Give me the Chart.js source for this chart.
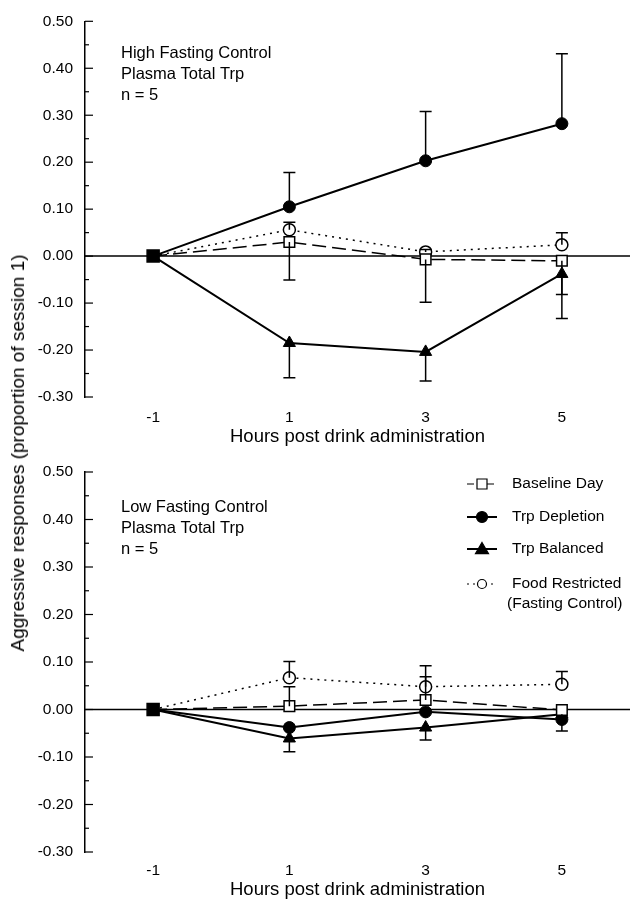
<!DOCTYPE html>
<html lang="en">
<head>
    <meta charset="UTF-8">
    <title>Aggressive responses after drink administration</title>
    <script src="https://cdn.jsdelivr.net/npm/chart.js"></script>
    <style>
        body { margin: 0; background: #fff; font-family: "Liberation Sans", Arial, sans-serif; }
        #wrap { position: relative; width: 634px; height: 901px; overflow: hidden; }
        #topChart { position: absolute; left: 0; top: 0; }
        #bottomChart { position: absolute; left: 0; top: 450px; }
        #yTitle {
            position: absolute; left: 18px; top: 453px; white-space: nowrap;
            font-size: 19px; color: #000;
            transform: translate(-50%, -50%) rotate(-90deg);
        }
    </style>
</head>
<body>
<div id="wrap">
    <canvas id="topChart" width="634" height="448"></canvas>
    <canvas id="bottomChart" width="634" height="451"></canvas>
    <div id="yTitle">Aggressive responses (proportion of session 1)</div>
</div>

<script>
    // hours after the drink
    const hours = [-1, 1, 3, 5];
    const hourTicks = [-1, 1, 3, 5];
    const yTicks = [-0.30, -0.25, -0.20, -0.15, -0.10, -0.05, 0.00, 0.05, 0.10, 0.15, 0.20, 0.25, 0.30, 0.35, 0.40, 0.45, 0.50];

    const seriesNames = ["Baseline Day", "Trp Depletion", "Trp Balanced", "Food Restricted"];

    // high fasting control group (means and end of the error bar)
    const hiBaseline = [0, 0.030, -0.007, -0.010];
    const hiBaselineErr = [null, -0.051, -0.098, -0.082];
    const hiDepletion = [0, 0.105, 0.203, 0.282];
    const hiDepletionErr = [null, 0.178, 0.308, 0.431];
    const hiBalanced = [0, -0.185, -0.204, -0.038];
    const hiBalancedErr = [null, -0.259, -0.266, -0.133];
    const hiFasting = [0, 0.056, 0.009, 0.024];
    const hiFastingErr = [null, 0.072, 0.014, 0.050];

    // low fasting control group
    const loBaseline = [0, 0.007, 0.020, -0.001];
    const loBaselineErr = [null, 0.048, 0.069, null];
    const loDepletion = [0, -0.038, -0.005, -0.021];
    const loDepletionErr = [null, null, null, null];
    const loBalanced = [0, -0.061, -0.038, -0.010];
    const loBalancedErr = [null, -0.089, -0.064, -0.045];
    const loFasting = [0, 0.067, 0.048, 0.053];
    const loFastingErr = [null, 0.101, 0.092, 0.080];

    const hiNote = ["High Fasting Control", "Plasma Total Trp", "n = 5"];
    const loNote = ["Low Fasting Control", "Plasma Total Trp", "n = 5"];

    const FONT = "'Liberation Sans', Arial, sans-serif";

    function pts(vals) {
        return hours.map((h, i) => ({ x: h, y: vals[i] }));
    }

    function makeDatasets(b, d, t, f) {
        return [
            {
                label: seriesNames[0], data: pts(b),
                borderColor: '#000', borderWidth: 1.5, borderDash: [14, 6],
                pointStyle: 'rect', pointRadius: [8.5, 7.5, 7.5, 7.5],
                pointBackgroundColor: ['#000', '#fff', '#fff', '#fff'],
                pointBorderColor: '#000', pointBorderWidth: 1.5
            },
            {
                label: seriesNames[1], data: pts(d),
                borderColor: '#000', borderWidth: 2,
                pointStyle: 'circle', pointRadius: [0, 6, 6, 6],
                pointBackgroundColor: '#000', pointBorderColor: '#000', pointBorderWidth: 1
            },
            {
                label: seriesNames[2], data: pts(t),
                borderColor: '#000', borderWidth: 2,
                pointStyle: 'triangle', pointRadius: [0, 7, 7, 7],
                pointBackgroundColor: '#000', pointBorderColor: '#000', pointBorderWidth: 1
            },
            {
                label: seriesNames[3], data: pts(f),
                borderColor: '#000', borderWidth: 1.5, borderDash: [2, 5],
                pointStyle: 'circle', pointRadius: [0, 6, 6, 6],
                pointBackgroundColor: '#fff', pointBorderColor: '#000', pointBorderWidth: 1.5
            }
        ];
    }

    // error bars, zero line, inward y ticks, note text, legend
    const decorPlugin = {
        id: 'decor',
        beforeDatasetsDraw(chart) {
            const ctx = chart.ctx;
            const y = chart.scales.y;
            const area = chart.chartArea;
            ctx.save();
            ctx.strokeStyle = '#000';
            ctx.lineWidth = 1.5;
            const y0 = y.getPixelForValue(0);
            ctx.beginPath();
            ctx.moveTo(area.left, y0);
            ctx.lineTo(area.right, y0);
            ctx.stroke();
            ctx.lineWidth = 1.2;
            yTicks.forEach(v => {
                const py = y.getPixelForValue(v);
                const major = Math.abs(Math.round(v * 20)) % 2 === 0;
                ctx.beginPath();
                ctx.moveTo(area.left, py);
                ctx.lineTo(area.left + (major ? 8 : 4), py);
                ctx.stroke();
            });
            ctx.restore();
        },
        afterDatasetsDraw(chart, args, opts) {
            const ctx = chart.ctx;
            const y = chart.scales.y;
            ctx.save();
            ctx.strokeStyle = '#000';
            ctx.lineWidth = 1.5;
            opts.errors.forEach((errs, i) => {
                const meta = chart.getDatasetMeta(i);
                errs.forEach((e, j) => {
                    if (e === null) return;
                    const px = meta.data[j].x;
                    const py1 = meta.data[j].y;
                    const py2 = y.getPixelForValue(e);
                    ctx.beginPath();
                    ctx.moveTo(px, py1);
                    ctx.lineTo(px, py2);
                    ctx.moveTo(px - 6, py2);
                    ctx.lineTo(px + 6, py2);
                    ctx.stroke();
                });
            });

            ctx.fillStyle = '#000';
            ctx.font = '16.5px ' + FONT;
            ctx.textBaseline = 'middle';
            ctx.textAlign = 'left';
            opts.note.forEach((line, k) => {
                ctx.fillText(line, opts.noteX, opts.noteY + k * 21);
            });

            if (opts.legend) {
                const lg = opts.legend;
                ctx.font = '15.5px ' + FONT;
                const rows = [lg.y, lg.y + 33, lg.y + 65, lg.y + 100];
                const styles = [
                    { dash: [7, 3], w: 1.2, shape: 'rect', fill: '#fff', r: 5 },
                    { dash: [], w: 2, shape: 'circle', fill: '#000', r: 5.5 },
                    { dash: [], w: 2, shape: 'triangle', fill: '#000', r: 6.5 },
                    { dash: [2, 4], w: 1.2, shape: 'circle', fill: '#fff', r: 4.5 }
                ];
                rows.forEach((ry, k) => {
                    const s = styles[k];
                    ctx.lineWidth = s.w;
                    ctx.setLineDash(s.dash);
                    ctx.beginPath();
                    ctx.moveTo(lg.x, ry);
                    ctx.lineTo(lg.x + 30, ry);
                    ctx.stroke();
                    ctx.setLineDash([]);
                    ctx.lineWidth = 1.2;
                    ctx.fillStyle = s.fill;
                    const cx = lg.x + 15;
                    ctx.beginPath();
                    if (s.shape === 'rect') {
                        ctx.rect(cx - s.r, ry - s.r, s.r * 2, s.r * 2);
                    } else if (s.shape === 'circle') {
                        ctx.arc(cx, ry, s.r, 0, Math.PI * 2);
                    } else {
                        ctx.moveTo(cx, ry - s.r);
                        ctx.lineTo(cx + s.r, ry + s.r * 0.7);
                        ctx.lineTo(cx - s.r, ry + s.r * 0.7);
                        ctx.closePath();
                    }
                    ctx.fill();
                    ctx.stroke();
                    ctx.fillStyle = '#000';
                    ctx.fillText(seriesNames[k], lg.x + 45, ry);
                });
                ctx.fillText('(Fasting Control)', lg.x + 40, rows[3] + 20);
            }
            ctx.restore();
        }
    };

    function makeChart(id, datasets, errors, note, padTop, xHeight, tickPad, legend) {
        return new Chart(document.getElementById(id), {
            type: 'line',
            data: { datasets: datasets },
            plugins: [decorPlugin],
            options: {
                responsive: false,
                animation: false,
                layout: { autoPadding: false, padding: { top: padTop, right: 4, left: 0, bottom: 0 } },
                plugins: {
                    legend: { display: false },
                    tooltip: { enabled: false },
                    decor: { errors: errors, note: note, noteX: 121, noteY: padTop + 35, legend: legend }
                },
                scales: {
                    x: {
                        type: 'linear', min: -2, max: 6,
                        afterBuildTicks: s => { s.ticks = hourTicks.map(v => ({ value: v })); },
                        afterFit: s => { s.height = xHeight; },
                        grid: { display: false, drawTicks: false },
                        border: { display: false },
                        ticks: { color: '#000', padding: tickPad, font: { family: FONT, size: 15.5 } },
                        title: {
                            display: true, text: 'Hours post drink administration', color: '#000',
                            padding: { top: 0, bottom: 0 }, font: { family: FONT, size: 18.5 }
                        }
                    },
                    y: {
                        min: -0.3, max: 0.5,
                        afterBuildTicks: s => { s.ticks = yTicks.map(v => ({ value: v })); },
                        afterFit: s => { s.width = 85; },
                        grid: { display: false, drawTicks: false },
                        border: { display: true, color: '#000', width: 1.5 },
                        ticks: {
                            color: '#000', padding: 12, font: { family: FONT, size: 15.5 },
                            callback: v => (Math.abs(Math.round(v * 20)) % 2 === 0 ? v.toFixed(2) : '')
                        }
                    }
                }
            }
        });
    }

    makeChart('topChart',
        makeDatasets(hiBaseline, hiDepletion, hiBalanced, hiFasting),
        [hiBaselineErr, hiDepletionErr, hiBalancedErr, hiFastingErr],
        hiNote, 18, 51, 11, null);

    makeChart('bottomChart',
        makeDatasets(loBaseline, loDepletion, loBalanced, loFasting),
        [loBaselineErr, loDepletionErr, loBalancedErr, loFastingErr],
        loNote, 22, 49, 9, { x: 467, y: 34 });
</script>
</body>
</html>
